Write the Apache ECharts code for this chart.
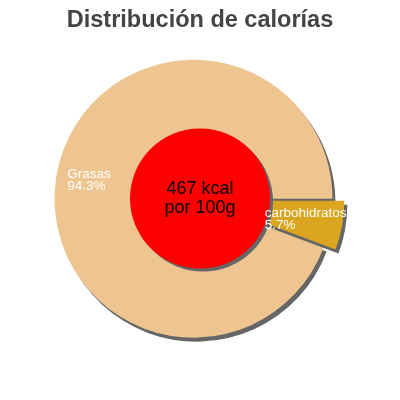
<!DOCTYPE html>
<html>
<head>
<meta charset="utf-8">
<script src="https://cdn.jsdelivr.net/npm/echarts@6/dist/echarts.min.js"></script>
<style>
html,body{margin:0;padding:0;background:#fff;}
#chart{width:400px;height:400px;}
</style>
</head>
<body>
<div id="chart"></div>
<script>
const titleText = 'Distribución de calorías';
const categories = ['Grasas', 'carbohidratos'];
const percents = [94.3, 5.7];
const sliceColors = ['#EEC591', '#DAA520'];
const energyKcal = 467;
const energyLabel = 'kcal';
const perLabel = 'por 100g';

const total = percents.reduce((a, b) => a + b, 0);
const startAngle = -percents[1] / total * 360;

const labelShift = [[-55, -6], [-12, 6]];

const chart = echarts.init(document.getElementById('chart'), null, {renderer: 'canvas'});
chart.setOption({
  animation: false,
  title: {
    text: titleText,
    left: 'center',
    top: 4,
    textStyle: {fontFamily: 'Liberation Sans, Arial, sans-serif', fontSize: 23.5, fontWeight: 'bold', color: '#444444'}
  },
  series: [
    {
      type: 'pie',
      center: [193.5, 198.7],
      radius: [0, 139],
      startAngle: startAngle,
      clockwise: true,
      percentPrecision: 1,
      selectedMode: 'single',
      selectedOffset: 12,
      silent: true,
      emphasis: {disabled: true},
      itemStyle: {shadowColor: '#666666', shadowBlur: 0, shadowOffsetX: 3, shadowOffsetY: 4},
      label: {
        show: true,
        position: 'inside',
        formatter: '{b}\n{d}%',
        color: '#ffffff',
        fontFamily: 'Liberation Sans, Arial, sans-serif',
        fontSize: 13.5,
        lineHeight: 12
      },
      labelLine: {show: false},
      labelLayout: function (p) {
        const s = labelShift[p.dataIndex];
        return {dx: s[0], dy: s[1], align: 'left', verticalAlign: 'middle'};
      },
      data: categories.map((c, i) => ({
        name: c,
        value: percents[i],
        selected: i === 1,
        itemStyle: {color: sliceColors[i]}
      }))
    },
    {
      type: 'pie',
      center: [200, 198.5],
      radius: [0, 70],
      silent: true,
      z: 2,
      emphasis: {disabled: true},
      itemStyle: {color: '#FF0000', shadowColor: '#666666', shadowBlur: 0, shadowOffsetX: 3, shadowOffsetY: 3},
      label: {
        show: true,
        position: 'center',
        formatter: energyKcal + ' ' + energyLabel + '\n' + perLabel,
        color: '#000000',
        fontFamily: 'Liberation Sans, Arial, sans-serif',
        fontSize: 18,
        lineHeight: 19
      },
      labelLine: {show: false},
      data: [{name: 'energía', value: energyKcal}]
    }
  ]
});
</script>
</body>
</html>
